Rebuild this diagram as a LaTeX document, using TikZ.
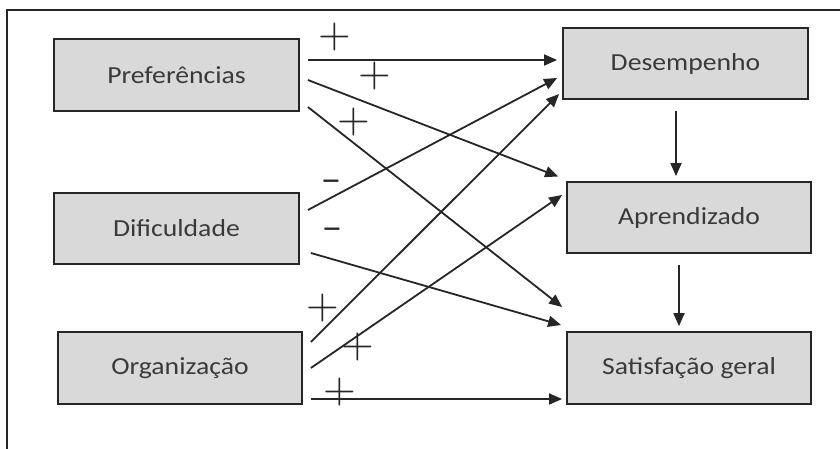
\documentclass[tikz,border=0pt]{standalone}
\usepackage{fontspec}
\setmainfont[FakeStretch=1.13]{Carlito}
\newfontfamily\signfont[Extension=.otf]{lmroman10-regular}
\usetikzlibrary{arrows.meta,calc}
\definecolor{boxfill}{HTML}{D9D9D9}
\definecolor{linecol}{HTML}{262626}
\definecolor{textcol}{HTML}{3A3A3A}
\tikzset{
  box/.style={draw=linecol, line width=1.8pt, fill=boxfill, text=textcol,
    font=\fontsize{24.5}{28}\selectfont, inner sep=0pt},
  arr/.style={draw=linecol, line width=1.8pt, -{Triangle[length=13pt,width=11pt]}},
  plus/.style={inner sep=0pt, text=linecol, font=\signfont\fontsize{42}{42}\selectfont},
  minus/.style={inner sep=0pt, text=linecol, font=\fontsize{37}{37}\selectfont},
}
\begin{document}
\begin{tikzpicture}[x=1pt,y=-1pt]
\useasboundingbox (0,0) rectangle (840,449);
\fill[white] (0,0) rectangle (840,449);
% frame
\draw[linecol, line width=1.5pt] (7,449) -- (7,10) -- (840,10);
% boxes
\node[box, minimum width=245pt, minimum height=72pt] (pref) at (176.5,75) {Preferências};
\node[box, minimum width=245pt, minimum height=71pt] (dif) at (176.5,228.5) {Dificuldade};
\node[box, minimum width=244pt, minimum height=72pt] (org) at (180,368) {Organização};
\node[box, minimum width=245pt, minimum height=71pt] (des) at (685.5,63.5) {Desempenho};
\node[box, minimum width=244pt, minimum height=71pt] (apr) at (689,217.5) {Aprendizado};
\node[box, minimum width=244pt, minimum height=72pt] (sat) at (689,368) {Satisfação geral};
% arrows
\draw[arr] ([shift={(8,-15)}]pref.east) -- ([shift={(-5,-3.5)}]des.west);
\draw[arr] ([shift={(8,5)}]pref.east) -- ([shift={(-8,-41)}]apr.west);
\draw[arr] ([shift={(8,32)}]pref.east) -- ([shift={(-4,-61)}]sat.west);
\draw[arr] ([shift={(8,-18.5)}]dif.east) -- ([shift={(-5,14.5)}]des.west);
\draw[arr] ([shift={(11,24.5)}]dif.east) -- ([shift={(-5,-43)}]sat.west);
\draw[arr] ([shift={(8,-26)}]org.east) -- ([shift={(-3,30.5)}]des.west);
\draw[arr] ([shift={(8,0)}]org.east) -- ([shift={(-4,-22.5)}]apr.west);
\draw[arr] ([shift={(8,31)}]org.east) -- ([shift={(-4,31)}]sat.west);
\draw[arr] ([shift={(-9.5,11)}]des.south) -- ([shift={(-13,-5)}]apr.north);
\draw[arr] ([shift={(-10,11)}]apr.south) -- ([shift={(-10,-5)}]sat.north);
% signs
\node[plus] (s1) at (335,37) {+};
\node[plus] (s2) at (375,76) {+};
\node[plus] (s3) at (354,122) {+};
\node[minus] (s4) at (331,186) {\textendash};
\node[minus] (s5) at (332,234) {\textendash};
\node[plus] (s6) at (323,308) {+};
\node[plus] (s7) at (358,347) {+};
\node[plus] (s8) at (340,392) {+};
\end{tikzpicture}
\end{document}
